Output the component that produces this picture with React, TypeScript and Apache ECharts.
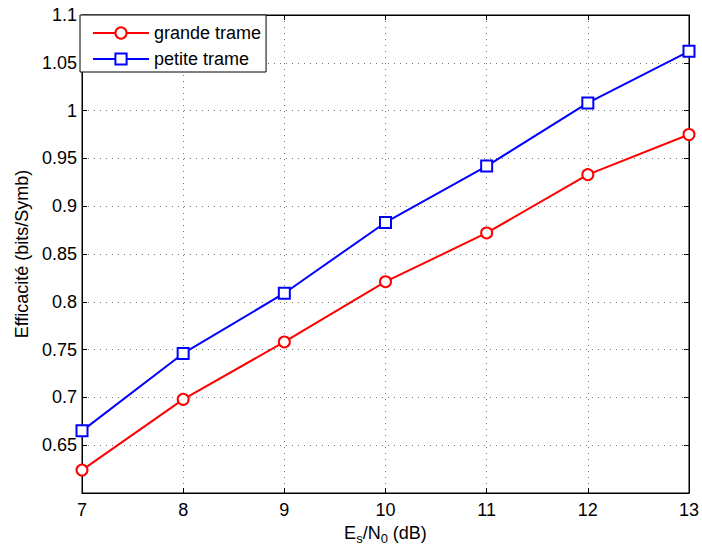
import React, { useEffect, useRef } from "react";
import * as echarts from "echarts";

const snr = [7, 8, 9, 10, 11, 12, 13];
const grandeTrame = [0.624, 0.698, 0.758, 0.821, 0.872, 0.933, 0.975];
const petiteTrame = [0.665, 0.746, 0.809, 0.883, 0.942, 1.008, 1.062];
const seriesNames = ["grande trame", "petite trame"];

const FONT = "Liberation Sans, Arial, Helvetica, sans-serif";
const FS = 18;

const fmt = (v: number) => String(parseFloat(v.toFixed(2)));

export default function App() {
  const ref = useRef<HTMLDivElement>(null);
  useEffect(() => {
    if (!ref.current) return;
    const chart = echarts.init(ref.current, null, { renderer: "svg" });
    const grid = {
      type: [1, 5] as any,
      color: "#777",
      width: 1,
    };
    chart.setOption({
      animation: false,
      backgroundColor: "#fff",
      textStyle: { fontFamily: FONT },
      grid: { left: 82, right: 13, top: 15, bottom: 57, show: true, borderColor: "#000", borderWidth: 1 },
      legend: {
        left: 80,
        top: 15,
        orient: "vertical",
        backgroundColor: "#fff",
        borderColor: "#000",
        borderWidth: 1,
        borderRadius: 0,
        padding: [9, 5, 4, 12],
        itemWidth: 56,
        itemHeight: 14,
        itemGap: 8,
        textStyle: { fontSize: FS, color: "#000", fontFamily: FONT, lineHeight: 14 },
        data: seriesNames,
      },
      xAxis: [
        {
          type: "value",
          min: 7,
          max: 13,
          interval: 1,
          name: "{a|E}{s|s}{a|/N}{s|0}{a| (dB)}",
          nameLocation: "middle",
          nameGap: 28,
          nameTextStyle: {
            rich: {
              a: { fontSize: FS, color: "#000", fontFamily: FONT, lineHeight: 22, verticalAlign: "top" },
              s: { fontSize: 13, color: "#000", fontFamily: FONT, lineHeight: 22, verticalAlign: "top", padding: [8, 0, 0, 0] },
            },
          },
          axisLine: { show: true, lineStyle: { color: "#000", width: 1 } },
          axisTick: { show: true, inside: true, length: 5, lineStyle: { color: "#000" } },
          axisLabel: { fontSize: FS, color: "#000", margin: 8, fontFamily: FONT },
          splitLine: { show: true, lineStyle: grid },
        },
        {
          type: "value",
          position: "top",
          min: 7,
          max: 13,
          interval: 1,
          axisLine: { show: true, lineStyle: { color: "#000" } },
          axisTick: { show: true, inside: true, length: 5, lineStyle: { color: "#000" } },
          axisLabel: { show: false },
          splitLine: { show: false },
        },
      ],
      yAxis: [
        {
          type: "value",
          min: 0.6,
          max: 1.1,
          interval: 0.05,
          name: "Efficacité (bits/Symb)",
          nameLocation: "middle",
          nameGap: 50,
          nameTextStyle: { fontSize: FS, color: "#000", fontFamily: FONT },
          axisLine: { show: true, lineStyle: { color: "#000" } },
          axisTick: { show: true, inside: true, length: 5, lineStyle: { color: "#000" } },
          axisLabel: {
            fontSize: FS,
            color: "#000",
            margin: 5,
            fontFamily: FONT,
            showMinLabel: false,
            formatter: (v: number) => fmt(v),
          },
          splitLine: { show: true, lineStyle: grid },
        },
        {
          type: "value",
          position: "right",
          min: 0.6,
          max: 1.1,
          interval: 0.05,
          axisLine: { show: true, lineStyle: { color: "#000" } },
          axisTick: { show: true, inside: true, length: 5, lineStyle: { color: "#000" } },
          axisLabel: { show: false },
          splitLine: { show: false },
        },
      ],
      series: [
        {
          name: seriesNames[0],
          type: "line",
          data: snr.map((x, i) => [x, grandeTrame[i]]),
          symbol: "emptyCircle",
          symbolSize: 11,
          itemStyle: { color: "#ff0000", borderWidth: 2 },
          lineStyle: { color: "#ff0000", width: 2 },
          z: 3,
        },
        {
          name: seriesNames[1],
          type: "line",
          data: snr.map((x, i) => [x, petiteTrame[i]]),
          symbol: "emptyRect",
          symbolSize: 11,
          itemStyle: { color: "#0000ff", borderWidth: 2 },
          lineStyle: { color: "#0000ff", width: 2 },
          z: 3,
        },
      ],
    });
    return () => chart.dispose();
  }, []);
  return <div ref={ref} style={{ position: "fixed", left: 0, top: 0, width: 702, height: 550 }} />;
}
